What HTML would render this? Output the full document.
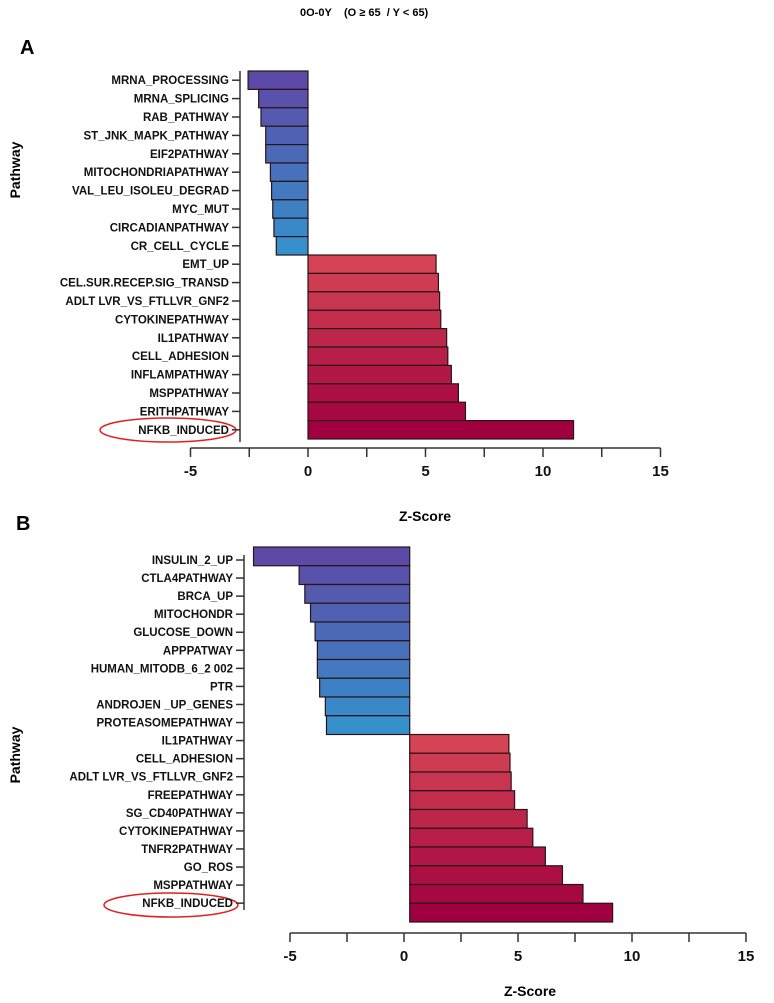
<!DOCTYPE html>
<html><head><meta charset="utf-8"><style>
body{margin:0;background:#fff;width:774px;height:998px;overflow:hidden;font-family:"Liberation Sans",Arial,sans-serif}
svg text{font-family:"Liberation Sans",Arial,sans-serif;font-weight:bold}
</style></head><body>
<svg id="c" width="774" height="998">
<text x="300" y="16" font-size="11">0O-0Y&#160;&#160;&#160;&#160;(O ≥ 65&#160; / Y &lt; 65)</text>
<text x="20" y="54" font-size="20">A</text>
<text x="16" y="530" font-size="20">B</text>
<text transform="translate(20,170) rotate(-90)" font-size="14" text-anchor="middle">Pathway</text>
<text transform="translate(20,755) rotate(-90)" font-size="14" text-anchor="middle">Pathway</text>
<text x="425" y="521" font-size="14" text-anchor="middle">Z-Score</text>
<text x="530" y="996" font-size="14" text-anchor="middle">Z-Score</text>
<ellipse cx="168" cy="430" rx="68" ry="12" fill="none" stroke="#e02020" stroke-width="1.5"/>
<ellipse cx="171" cy="905" rx="67" ry="12" fill="none" stroke="#e02020" stroke-width="1.5"/>
</svg>
<script>
const catsA=["MRNA_PROCESSING","MRNA_SPLICING","RAB_PATHWAY","ST_JNK_MAPK_PATHWAY","EIF2PATHWAY","MITOCHONDRIAPATHWAY","VAL_LEU_ISOLEU_DEGRAD","MYC_MUT","CIRCADIANPATHWAY","CR_CELL_CYCLE","EMT_UP","CEL.SUR.RECEP.SIG_TRANSD","ADLT LVR_VS_FTLLVR_GNF2","CYTOKINEPATHWAY","IL1PATHWAY","CELL_ADHESION","INFLAMPATHWAY","MSPPATHWAY","ERITHPATHWAY","NFKB_INDUCED"];
const valsA=[-2.55,-2.1,-2.0,-1.8,-1.8,-1.6,-1.55,-1.5,-1.45,-1.35,5.45,5.55,5.6,5.65,5.9,5.95,6.1,6.4,6.7,11.3];
const catsB=["INSULIN_2_UP","CTLA4PATHWAY","BRCA_UP","MITOCHONDR","GLUCOSE_DOWN","APPPATWAY","HUMAN_MITODB_6_2 002","PTR","ANDROJEN _UP_GENES","PROTEASOMEPATHWAY","IL1PATHWAY","CELL_ADHESION","ADLT LVR_VS_FTLLVR_GNF2","FREEPATHWAY","SG_CD40PATHWAY","CYTOKINEPATHWAY","TNFR2PATHWAY","GO_ROS","MSPPATHWAY","NFKB_INDUCED"];
const valsB=[-6.6,-4.6,-4.35,-4.1,-3.9,-3.8,-3.8,-3.7,-3.45,-3.4,4.6,4.65,4.7,4.85,5.4,5.65,6.2,6.95,7.85,9.15];
const ticks=[-5,0,5,10,15];
const NS="http://www.w3.org/2000/svg";
const svg=document.getElementById('c');
function mk(t,a){const e=document.createElementNS(NS,t);for(const k in a)e.setAttribute(k,a[k]);svg.appendChild(e);return e;}
function lerp(a,b,t){return a.map((v,i)=>Math.round(v+(b[i]-v)*t));}
function panel(p,cats,vals,cfg){
  const x=v=>cfg.x0+v*cfg.k;
  const bh=(cfg.yb-cfg.yt)/cats.length;
  const y=i=>cfg.yt+i*bh;
  const nNeg=vals.filter(v=>v<0).length, nPos=vals.length-nNeg;
  let ni=0,pi=0;
  vals.forEach((v,i)=>{
    const b=x(cfg.base);
    let col;
    if(v<0){col=lerp([92,74,166],[54,144,204],nNeg>1?ni/(nNeg-1):0);ni++;}
    else{col=lerp([212,68,84],[160,0,64],nPos>1?pi/(nPos-1):0);pi++;}
    const r=mk('rect',{x:Math.min(b,x(v)),y:y(i),width:Math.abs(x(v)-b),height:bh,fill:'rgb('+col.join(',')+')',stroke:'#2a1418','stroke-width':1.2});
    
    
    const cy=cfg.ly0+i*cfg.ldy;
    const tk=mk('line',{x1:cfg.ax-8,x2:cfg.ax,y1:cy,y2:cy,stroke:'#333','stroke-width':1.5});
    
    
    const t=mk('text',{x:cfg.ax-11,y:cy+4,'font-size':11.5,'text-anchor':'end',fill:'#111'});
    t.textContent=cats[i];
    
    
  });
  const ya=mk('line',{x1:cfg.ax,x2:cfg.ax,y1:cfg.ay0,y2:cfg.ay1,stroke:'#333','stroke-width':1.5});
  
  
  const xa=mk('line',{x1:x(-5),x2:x(15),y1:cfg.axy,y2:cfg.axy,stroke:'#333','stroke-width':1.5});
  
  
  for(let v=-5;v<=15;v+=2.5){
    const l=mk('line',{x1:x(v),x2:x(v),y1:cfg.axy,y2:cfg.axy+9,stroke:'#333','stroke-width':1.5});
    
    
  }
  ticks.forEach(v=>{
    const t=mk('text',{x:x(v),y:cfg.axy+28,'font-size':15,'text-anchor':'middle',fill:'#111'});
    t.textContent=v;
    
    
  });
}
panel('a',catsA,valsA,{x0:308,k:23.5,yt:71,yb:439,ax:240,axy:448,base:0,ly0:80.2,ldy:18.4,ay0:71,ay1:442});
panel('b',catsB,valsB,{x0:404,k:22.8,yt:547,yb:922,ax:244,axy:933,base:0.25,ly0:560,ldy:18.06,ay0:555,ay1:910});
</script>
</body></html>
